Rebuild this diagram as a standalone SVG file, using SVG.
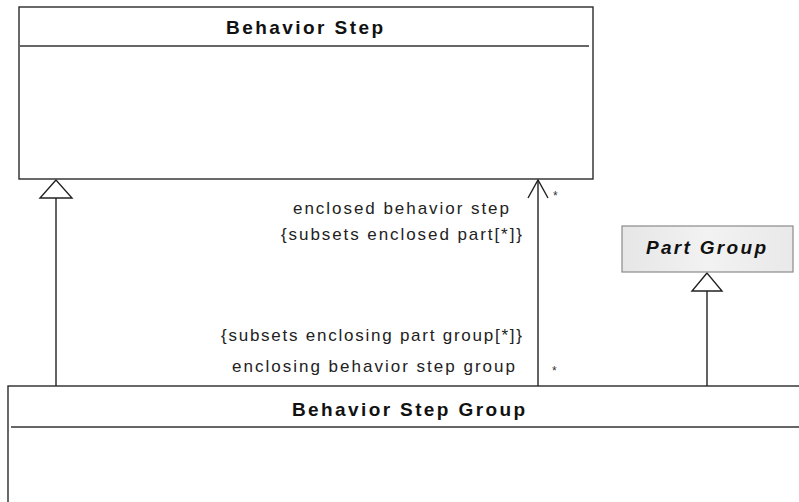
<svg xmlns="http://www.w3.org/2000/svg" width="799" height="502" viewBox="0 0 799 502">
<defs>
<style>
.box{fill:#fff;stroke:#2a2a2a;stroke-width:1.4}
.sep{stroke:#333;stroke-width:1.4}
.title{font-family:"Liberation Sans",Arial,sans-serif;font-weight:bold;font-size:19px;fill:#111}
.lbl{font-family:"Liberation Sans",Arial,sans-serif;font-size:17px;fill:#222}
.mult{font-family:"Liberation Sans",Arial,sans-serif;font-size:12px;fill:#333}
.line{fill:none;stroke:#222;stroke-width:1.4}
.gen{fill:#fff;stroke:#222;stroke-width:1.4}
</style>
<linearGradient id="pg" x1="0" y1="0" x2="1" y2="0">
<stop offset="0" stop-color="#e6e6e6"/>
<stop offset="0.5" stop-color="#f2f2f2"/>
<stop offset="1" stop-color="#e9e9e9"/>
</linearGradient>
</defs>
<rect width="799" height="502" fill="#fff"/>
<g id="connectors">
<line class="line" x1="56" y1="198" x2="56" y2="386"/>
<polygon class="gen" points="56,180 40,198 72,198"/>
<line class="line" x1="538" y1="180" x2="538" y2="386"/>
<polyline class="line" points="528,198 538,180 548,198"/>
<line class="line" x1="707" y1="291" x2="707" y2="386"/>
<polygon class="gen" points="707,273 692,291 722,291"/>
<text class="lbl" x="509" y="214" text-anchor="end" textLength="216" lengthAdjust="spacing">enclosed behavior step</text>
<text class="lbl" x="522" y="240" text-anchor="end" textLength="241" lengthAdjust="spacing">{subsets enclosed part[*]}</text>
<text class="lbl" x="522" y="341" text-anchor="end" textLength="301" lengthAdjust="spacing">{subsets enclosing part group[*]}</text>
<text class="lbl" x="515" y="372" text-anchor="end" textLength="283" lengthAdjust="spacing">enclosing behavior step group</text>
<text class="mult" x="553" y="200">*</text>
<text class="mult" x="552" y="375">*</text>
</g>
<g id="behavior-step">
<rect class="box" x="19" y="7" width="574" height="172"/>
<line class="sep" x1="20" y1="46" x2="589" y2="46"/>
<text class="title" x="226" y="34" textLength="157" lengthAdjust="spacing">Behavior Step</text>
</g>
<g id="part-group">
<rect x="622" y="226" width="171" height="46" fill="url(#pg)" stroke="#8a8a8a" stroke-width="1.2"/>
<text class="title" x="646" y="254" font-style="italic" textLength="120" lengthAdjust="spacing">Part Group</text>
</g>
<g id="behavior-step-group">
<rect class="box" x="8" y="386" width="800" height="130"/>
<line class="sep" x1="11" y1="427" x2="799" y2="427"/>
<text class="title" x="292" y="416" textLength="233" lengthAdjust="spacing">Behavior Step Group</text>
</g>
</svg>
